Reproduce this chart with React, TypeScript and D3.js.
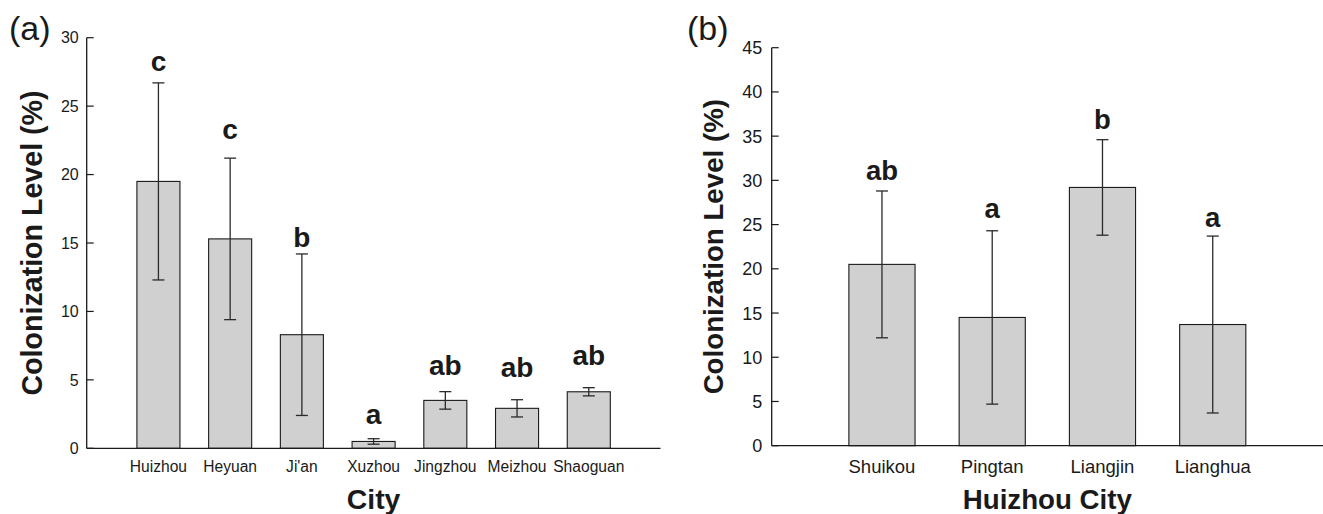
import React from "react";
import * as d3 from "d3";

// ---------- data ----------
const citiesA = ["Huizhou", "Heyuan", "Ji'an", "Xuzhou", "Jingzhou", "Meizhou", "Shaoguan"];
const meansA = [19.5, 15.3, 8.3, 0.5, 3.5, 2.92, 4.13];
const errA = [7.2, 5.9, 5.9, 0.2, 0.64, 0.63, 0.3];
const lettersA = ["c", "c", "b", "a", "ab", "ab", "ab"];
const letterLevelA = [27.6, 22.6, 14.7, 1.8, 5.35, 5.2, 6.1];
const ticksA = [0, 5, 10, 15, 20, 25, 30];

const sitesB = ["Shuikou", "Pingtan", "Liangjin", "Lianghua"];
const meansB = [20.5, 14.5, 29.2, 13.7];
const errB = [8.3, 9.8, 5.4, 10.0];
const lettersB = ["ab", "a", "b", "a"];
const letterLevelB = [30.0, 25.7, 35.8, 24.7];
const ticksB = [0, 5, 10, 15, 20, 25, 30, 35, 40, 45];

const FONT = "'Liberation Sans', Arial, Helvetica, sans-serif";
const BAR_FILL = "#d0d0d0";
const INK = "#1a1a1a";

type PanelProps = {
  tag: string;
  tagX: number;
  cats: string[];
  means: number[];
  errs: number[];
  letters: string[];
  letterLevels: number[];
  ticks: number[];
  yMax: number;
  x0: number;
  x1: number;
  yTop: number;
  yBottom: number;
  tickFont: number;
  xTickFont: number;
  xTickBaseline: number;
  letterFont: number;
  titleFont: number;
  yTitle: string;
  yTitleX: number;
  xTitle: string;
  xTitleFont: number;
  xTitleBaseline: number;
  yTickGap: number;
};

function Panel(p: PanelProps) {
  const n = p.cats.length;
  const x = d3.scaleLinear().domain([0, n + 1]).range([p.x0, p.x1]);
  const y = d3.scaleLinear().domain([0, p.yMax]).range([p.yBottom, p.yTop]);
  const step = x(1) - x(0);
  const bw = step * 0.6;
  const cap = 12;
  const yMid = (p.yTop + p.yBottom) / 2;
  const xMid = (p.x0 + p.x1) / 2;
  return (
    <g fontFamily={FONT}>
      <text x={p.tagX} y={39.5} fontSize={34} fill={INK}>
        {p.tag}
      </text>
      {/* bars */}
      {p.cats.map((c, i) => {
        const cx = x(i + 1);
        return (
          <rect
            key={"bar" + c}
            x={cx - bw / 2}
            y={y(p.means[i])}
            width={bw}
            height={y(0) - y(p.means[i])}
            fill={BAR_FILL}
            stroke={INK}
            strokeWidth={1.1}
          />
        );
      })}
      {/* error bars */}
      {p.cats.map((c, i) => {
        const cx = x(i + 1);
        const hi = y(p.means[i] + p.errs[i]);
        const lo = y(p.means[i] - p.errs[i]);
        return (
          <g key={"err" + c} stroke="#2a2a2a" strokeWidth={1.3}>
            <line x1={cx} x2={cx} y1={hi} y2={lo} />
            <line x1={cx - cap / 2} x2={cx + cap / 2} y1={hi} y2={hi} />
            <line x1={cx - cap / 2} x2={cx + cap / 2} y1={lo} y2={lo} />
          </g>
        );
      })}
      {/* letters */}
      {p.cats.map((c, i) => (
        <text
          key={"let" + c}
          x={x(i + 1)}
          y={y(p.letterLevels[i])}
          textAnchor="middle"
          fontSize={p.letterFont}
          fontWeight="bold"
          fill={INK}
        >
          {p.letters[i]}
        </text>
      ))}
      {/* axes */}
      <line x1={p.x0} x2={p.x0} y1={p.yTop} y2={p.yBottom} stroke={INK} strokeWidth={1.3} />
      <line x1={p.x0} x2={p.x1} y1={p.yBottom} y2={p.yBottom} stroke={INK} strokeWidth={1.3} />
      {p.ticks.map((t) => (
        <g key={"tick" + t}>
          <line x1={p.x0} x2={p.x0 + 7} y1={y(t)} y2={y(t)} stroke={INK} strokeWidth={1.2} />
          <text
            x={p.x0 - p.yTickGap}
            y={y(t)}
            dy="0.36em"
            textAnchor="end"
            fontSize={p.tickFont}
            fill={INK}
          >
            {t}
          </text>
        </g>
      ))}
      {p.cats.map((c, i) => (
        <text
          key={"xl" + c}
          x={x(i + 1)}
          y={p.xTickBaseline}
          textAnchor="middle"
          fontSize={p.xTickFont}
          fill={INK}
        >
          {c}
        </text>
      ))}
      <text
        transform={`translate(${p.yTitleX},${yMid}) rotate(-90)`}
        textAnchor="middle"
        fontSize={p.titleFont}
        fontWeight="bold"
        fill={INK}
      >
        {p.yTitle}
      </text>
      <text
        x={xMid}
        y={p.xTitleBaseline}
        textAnchor="middle"
        fontSize={p.xTitleFont}
        fontWeight="bold"
        fill={INK}
      >
        {p.xTitle}
      </text>
    </g>
  );
}

export default function App() {
  return (
    <svg
      width={1323}
      height={514}
      viewBox="0 0 1323 514"
      style={{ position: "absolute", left: 0, top: 0, background: "#fff" }}
    >
      <rect x={0} y={0} width={1323} height={514} fill="#fff" />
      <Panel
        tag="(a)"
        tagX={9}
        cats={citiesA}
        means={meansA}
        errs={errA}
        letters={lettersA}
        letterLevels={letterLevelA}
        ticks={ticksA}
        yMax={30}
        x0={86.7}
        x1={660.5}
        yTop={37.7}
        yBottom={448.3}
        tickFont={16}
        xTickFont={15.6}
        xTickBaseline={471.5}
        letterFont={28}
        titleFont={28.6}
        yTitle="Colonization Level (%)"
        yTitleX={41.5}
        xTitle="City"
        xTitleFont={28.4}
        xTitleBaseline={508.5}
        yTickGap={8}
      />
      <Panel
        tag="(b)"
        tagX={687}
        cats={sitesB}
        means={meansB}
        errs={errB}
        letters={lettersB}
        letterLevels={letterLevelB}
        ticks={ticksB}
        yMax={45}
        x0={771.7}
        x1={1323}
        yTop={47.7}
        yBottom={445.7}
        tickFont={18}
        xTickFont={18.5}
        xTickBaseline={473.3}
        letterFont={27.5}
        titleFont={27.7}
        yTitle="Colonization Level (%)"
        yTitleX={722.5}
        xTitle="Huizhou City"
        xTitleFont={27.7}
        xTitleBaseline={509}
        yTickGap={9.5}
      />
    </svg>
  );
}
